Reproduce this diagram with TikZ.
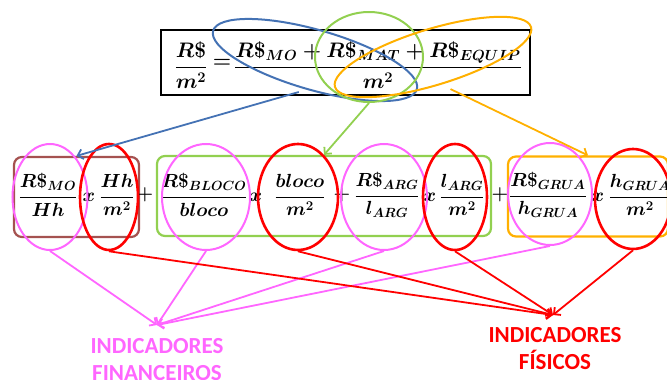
\RequirePackage{fix-cm}
\documentclass[tikz,border=0pt]{standalone}
\usepackage{fontspec}
\newfontfamily\labelfont{Carlito}
\usetikzlibrary{shapes.geometric,arrows.meta}
\definecolor{moblue}{RGB}{68,114,180}
\definecolor{matgreen}{RGB}{146,208,80}
\definecolor{eqorange}{RGB}{255,176,0}
\definecolor{mobrown}{RGB}{165,82,80}
\definecolor{finpink}{RGB}{255,102,255}
\definecolor{fisred}{RGB}{255,0,0}
\newcommand{\Rd}{R\textbf{\$}}
\newcommand{\rsfrac}[2]{$\displaystyle\frac{#1}{#2}$}
\begin{document}
\begin{tikzpicture}
			[x=1pt, y=-1pt,
			every node/.style={inner sep=0pt, font=\fontsize{19}{23}\selectfont\boldmath},
			eqtop/.style={font=\fontsize{21}{25}\selectfont\boldmath},
			rowbox/.style={rectangle, draw, rounded corners=8pt, line width=2.2pt, minimum height=80},
			ring/.style={ellipse, draw, line width=2pt},
			finring/.style={ring, draw=finpink},
			fisring/.style={ring, draw=fisred, line width=2.6pt},
			link/.style={line width=1.8pt, -{Straight Barb[length=5pt,width=10pt]}},
			indic/.style={align=center, font=\labelfont\bfseries\fontsize{23}{27}\selectfont}]
			\clip (0,0) rectangle (667,380);
			\node[draw, line width=2pt, minimum width=369, minimum height=65] (topbox) at (345.5,62.5) {};
			\node[eqtop] (lhs) at (191,65) {\rsfrac{\Rd}{m^2}};
			\node[eqtop] (eq) at (222,63) {$=$};
			\node[eqtop] (rhs) at (378,65) {\rsfrac{\Rd_{MO}+\Rd_{MAT}+\Rd_{EQUIP}}{m^2}};
			\node[ring, draw=moblue, minimum width=212, minimum height=60, rotate=-16] (moring) at (315,60) {};
			\node[ring, draw=matgreen, minimum width=108, minimum height=90] (matring) at (369,57) {};
			\node[ring, draw=eqorange, minimum width=205, minimum height=56, rotate=17] (eqring) at (433,57) {};
			\node[rowbox, draw=mobrown, minimum width=125] (mobox) at (76.5,197) {};
			\node[rowbox, draw=matgreen, minimum width=334] (matbox) at (324,196) {};
			\node[rowbox, draw=eqorange, minimum width=160] (eqbox) at (588,196.5) {};
			\node (moA) at (48,195) {\rsfrac{\Rd_{MO}}{Hh}};
			\node (xA) at (89,197) {$x$};
			\node (moB) at (117,195) {\rsfrac{Hh}{m^2}};
			\node (plA) at (145,195) {$+$};
			\node (blA) at (204,195) {\rsfrac{\Rd_{BLOCO}}{bloco}};
			\node (xB) at (256,197) {$x$};
			\node (blB) at (300,195) {\rsfrac{bloco}{m^2}};
			\node (plB) at (342,195) {$+$};
			\node (arA) at (387,195) {\rsfrac{\Rd_{ARG}}{l_{ARG}}};
			\node (xC) at (430,197) {$x$};
			\node (arB) at (462,195) {\rsfrac{l_{ARG}}{m^2}};
			\node (plC) at (500,195) {$+$};
			\node (grA) at (548,195) {\rsfrac{\Rd_{GRUA}}{h_{GRUA}}};
			\node (xD) at (598,197) {$x$};
			\node (grB) at (640,195) {\rsfrac{h_{GRUA}}{m^2}};
			\node[finring, minimum width=75, minimum height=106] (finA) at (50,197) {};
			\node[fisring, minimum width=58, minimum height=106] (fisA) at (109,197) {};
			\node[finring, minimum width=88, minimum height=106] (finB) at (206,197) {};
			\node[fisring, minimum width=80, minimum height=106] (fisB) at (298,197) {};
			\node[finring, minimum width=86, minimum height=106] (finC) at (384,197) {};
			\node[fisring, minimum width=64, minimum height=106] (fisC) at (455,197) {};
			\node[finring, minimum width=84, minimum height=102] (finD) at (550,194) {};
			\node[fisring, minimum width=76, minimum height=100] (fisD) at (633,199) {};
			\coordinate (finpt) at (157,325);
			\coordinate (fispt) at (553,315);
			\node[indic, text=finpink] (fin) at (157,360) {INDICADORES\\FINANCEIROS};
			\node[indic, text=fisred] (fis) at (555,349) {INDICADORES\\FÍSICOS};
			\draw[link, moblue, shorten <=8pt] (moring.south) -- (mobox.north);
			\draw[link, matgreen] (matring.south) -- (matbox.north);
			\draw[link, eqorange, shorten <=10pt] (eqring.south) -- (eqbox.north);
			\foreach \r in {finA,finB,finC,finD}
				\draw[link, finpink] (\r.south) -- (finpt);
			\foreach \r in {fisA,fisB,fisC,fisD}
				\draw[link, fisred] (\r.south) -- (fispt);
		\end{tikzpicture}
\end{document}
